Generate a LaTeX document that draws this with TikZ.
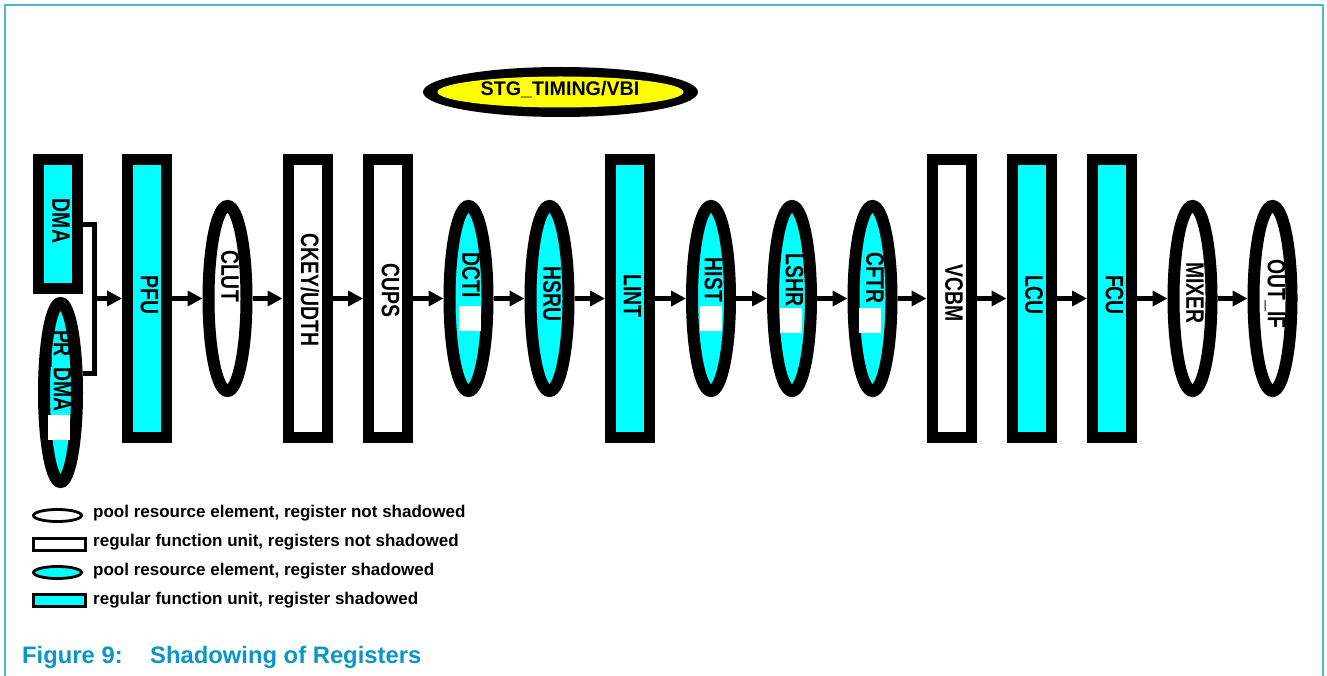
\documentclass[tikz,border=0pt]{standalone}
\usepackage{fontspec}
\setmainfont{Liberation Sans}
\usetikzlibrary{shapes.geometric,arrows.meta,calc}
\definecolor{cy}{RGB}{0,255,255}
\definecolor{yel}{RGB}{255,255,0}
\definecolor{framecol}{RGB}{80,180,210}
\definecolor{capcol}{RGB}{10,150,200}
\newcommand{\mylbl}[1]{\scalebox{1}[1.3]{#1}}
\tikzset{
  unitbox/.style={draw=black, line width=11pt, rectangle, inner sep=0pt, minimum width=39pt, minimum height=278pt},
  poolell/.style={draw=black, line width=12pt, ellipse, inner sep=0pt, minimum width=38pt, minimum height=185pt},
  lbl/.style={rotate=-90, inner sep=0pt, font=\fontsize{19.4}{20}\selectfont\bfseries},
  flow/.style={line width=5pt, -{Triangle[length=15pt,width=15pt]}},
  conn/.style={line width=5pt},
  whitesq/.style={fill=white, draw=none, rectangle, inner sep=0pt, minimum width=22pt, minimum height=25pt},
  legtext/.style={anchor=base west, inner sep=0pt, font=\fontsize{17}{20}\selectfont\bfseries},
  legell/.style={draw=black, line width=2.8pt, ellipse, inner sep=0pt, minimum width=48pt, minimum height=12pt},
  legbox/.style={draw=black, line width=3pt, rectangle, inner sep=0pt, minimum width=52pt, minimum height=12pt},
}
\begin{document}
\begin{tikzpicture}[x=1pt,y=-1pt]
\useasboundingbox (0,0) rectangle (1327,676);
% frame
\draw[framecol, line width=2pt] (5,676) -- (5,5) -- (1323,5) -- (1323,676);

% top ellipse
\node[ellipse, fill=black, minimum width=275pt, minimum height=50pt, inner sep=0pt] (stg) at (560.5,92) {};
\fill[yel] (stg.center) ellipse (123 and 15.5);
\node[inner sep=0pt, font=\fontsize{19.7}{22}\selectfont\bfseries] (stgt) at (560,90) {STG\_TIMING/VBI};

% DMA and PR_DMA
\node[unitbox, fill=cy, minimum height=129pt] (dma) at (58,224) {};
\node[lbl] (dmat) at (61,221) {\mylbl{DMA}};
\node[poolell, fill=cy, minimum width=33pt, minimum height=179pt] (prdma) at (60.5,392.5) {};
\node[whitesq] (prdmasq) at (59,427) {};
\node[lbl] (prdmat) at (61,371) {\mylbl{PR\_DMA}};

% main chain
\node[unitbox, fill=cy] (pfu) at (147,298.5) {};
\node[lbl] (pfut) at (149.5,295) {\mylbl{PFU}};
\node[poolell, fill=white] (clut) at (227.5,298.5) {};
\node[lbl] (clutt) at (230,276) {\mylbl{CLUT}};
\node[unitbox, fill=white] (ckey) at (307.5,298.5) {};
\node[lbl] (ckeyt) at (310,290) {\mylbl{CKEY/UDTH}};
\node[unitbox, fill=white] (cups) at (388,298.5) {};
\node[lbl] (cupst) at (390.5,290) {\mylbl{CUPS}};
\node[poolell, fill=cy] (dcti) at (468.5,298.5) {};
\node[whitesq] (dctisq) at (470,318.5) {};
\node[lbl] (dctit) at (471,275) {\mylbl{DCTI}};
\node[poolell, fill=cy] (hsru) at (549.5,298.5) {};
\node[lbl] (hsrut) at (552,294) {\mylbl{HSRU}};
\node[unitbox, fill=cy] (lint) at (630,298.5) {};
\node[lbl] (lintt) at (632.5,296) {\mylbl{LINT}};
\node[poolell, fill=cy] (hist) at (711,298.5) {};
\node[whitesq] (histsq) at (711,318.5) {};
\node[lbl] (histt) at (713.5,280) {\mylbl{HIST}};
\node[poolell, fill=cy] (lshr) at (792,298.5) {};
\node[whitesq] (lshrsq) at (791,320) {};
\node[lbl] (lshrt) at (794.5,280) {\mylbl{LSHR}};
\node[poolell, fill=cy] (cftr) at (872.5,298.5) {};
\node[whitesq] (cftrsq) at (870,320.5) {};
\node[lbl] (cftrt) at (875,278) {\mylbl{CFTR}};
\node[unitbox, fill=white] (vcbm) at (951.5,298.5) {};
\node[lbl] (vcbmt) at (954,293) {\mylbl{VCBM}};
\node[unitbox, fill=cy] (lcu) at (1031.5,298.5) {};
\node[lbl] (lcut) at (1034,295) {\mylbl{LCU}};
\node[unitbox, fill=cy] (fcu) at (1112,298.5) {};
\node[lbl] (fcut) at (1114.5,295) {\mylbl{FCU}};
\node[poolell, fill=white] (mixer) at (1192.5,298.5) {};
\node[lbl] (mixert) at (1195,293) {\mylbl{MIXER}};
\node[poolell, fill=white] (outif) at (1272.5,298.5) {};
\node[lbl] (outift) at (1275,294) {\mylbl{OUT\_IF}};

% bracket from DMA / PR_DMA
\coordinate (jt) at (94,224.5);
\coordinate (jb) at (94,373);
\coordinate (jm) at (94,298.5);
\draw[conn] (dma.east |- jt) -- (jt) -- (jb) -- (prdma.east |- jb);
\draw[flow] (jm) -- (pfu.west |- jm);

% flow arrows
\foreach \a/\b in {pfu/clut, clut/ckey, ckey/cups, cups/dcti, dcti/hsru, hsru/lint, lint/hist, hist/lshr, lshr/cftr, cftr/vcbm, vcbm/lcu, lcu/fcu, fcu/mixer, mixer/outif}
  \draw[flow] (\a) -- (\b);

% legend
\node[legell, fill=white] (l1) at (57.5,515.5) {};
\node[legtext] (l1t) at (93,517) {pool resource element, register not shadowed};
\node[legbox, fill=white] (l2) at (59.5,544.5) {};
\node[legtext] (l2t) at (93,546) {regular function unit, registers not shadowed};
\node[legell, fill=cy] (l3) at (57.5,572.5) {};
\node[legtext] (l3t) at (93,575.5) {pool resource element, register shadowed};
\node[legbox, fill=cy] (l4) at (59.5,600) {};
\node[legtext] (l4t) at (93,604) {regular function unit, register shadowed};

% caption
\node[anchor=base west, inner sep=0pt, text=capcol, font=\fontsize{23.8}{28}\selectfont\bfseries] (cap1) at (22,663) {Figure 9:};
\node[anchor=base west, inner sep=0pt, text=capcol, font=\fontsize{23.8}{28}\selectfont\bfseries] (cap2) at (150,663) {Shadowing of Registers};
\end{tikzpicture}
\end{document}
